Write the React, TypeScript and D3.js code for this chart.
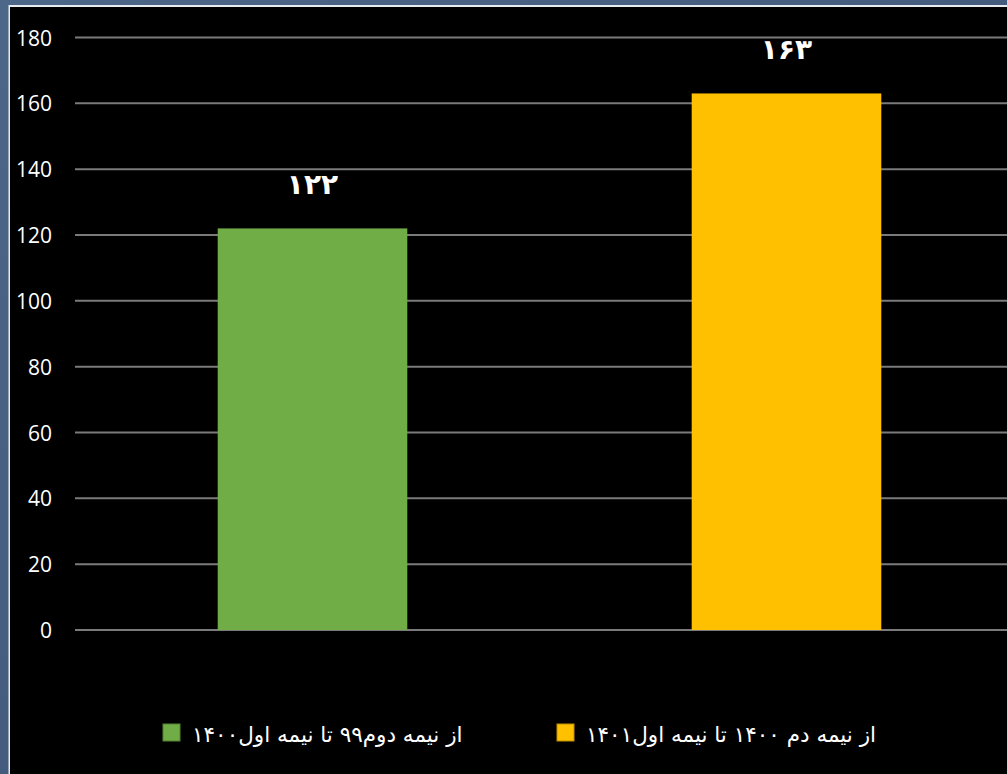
import React from "react";
import * as d3 from "d3";

const categories = ["از نیمه دوم۹۹ تا نیمه اول۱۴۰۰", "از نیمه دم ۱۴۰۰ تا نیمه اول۱۴۰۱"];
const values = [122, 163];
const valueLabels = ["۱۲۲", "۱۶۳"];
const colors = ["#70ad47", "#ffc000"];
const borderColors = ["#548235", "#bf9000"];
const yTicks = [0, 20, 40, 60, 80, 100, 120, 140, 160, 180];

const W = 1007;
const H = 774;

export default function App() {
  const y = d3.scaleLinear().domain([0, 180]).range([630, 37.5]);
  const x = d3
    .scaleBand<string>()
    .domain(categories)
    .range([75.5, 1023.5])
    .paddingInner(0.6)
    .paddingOuter(0.3);

  const legendX = [163, 557];

  return (
    <svg
      width={W}
      height={H}
      style={{ position: "absolute", left: 0, top: 0, display: "block" }}
    >
      <defs>
        <linearGradient id="bg" x1="0" y1="0" x2="1" y2="1">
          <stop offset="0" stopColor="#4d6788" />
          <stop offset="1" stopColor="#3b5072" />
        </linearGradient>
      </defs>
      <rect x={0} y={0} width={W} height={H} fill="url(#bg)" />
      <rect x={8.5} y={5} width={W} height={H} fill="#e8ecf0" />
      <rect x={10} y={7} width={W} height={H} fill="#000000" />

      {yTicks.map((t) => (
        <g key={t}>
          <line
            x1={75}
            x2={W}
            y1={y(t)}
            y2={y(t)}
            stroke="#7a7a7a"
            strokeWidth={2}
          />
          <text
            x={52}
            y={y(t)}
            textAnchor="end"
            dominantBaseline="central"
            fill="#ffffff"
            fontFamily="'Open Sans', 'DejaVu Sans', sans-serif"
            fontSize={21}
          >
            {t}
          </text>
        </g>
      ))}

      {categories.map((c, i) => (
        <g key={c}>
          <rect
            x={x(c)}
            y={y(values[i])}
            width={x.bandwidth()}
            height={y(0) - y(values[i])}
            fill={colors[i]}
          />
          <text
            x={(x(c) as number) + x.bandwidth() / 2}
            y={y(values[i]) - 34}
            textAnchor="middle"
            fill="#ffffff"
            fontFamily="'DejaVu Sans', sans-serif"
            fontWeight="bold"
            fontSize={28}
          >
            {valueLabels[i]}
          </text>
        </g>
      ))}

      {categories.map((c, i) => (
        <g key={"lg" + i}>
          <rect
            x={legendX[i]}
            y={724}
            width={17}
            height={17}
            fill={colors[i]}
            stroke={borderColors[i]}
            strokeWidth={1}
          />
          <text
            x={legendX[i] + 29}
            y={742}
            textAnchor="start"
            fill="#ffffff"
            fontFamily="'DejaVu Sans', sans-serif"
            fontSize={21.5}
          >
            {c}
          </text>
        </g>
      ))}
    </svg>
  );
}
